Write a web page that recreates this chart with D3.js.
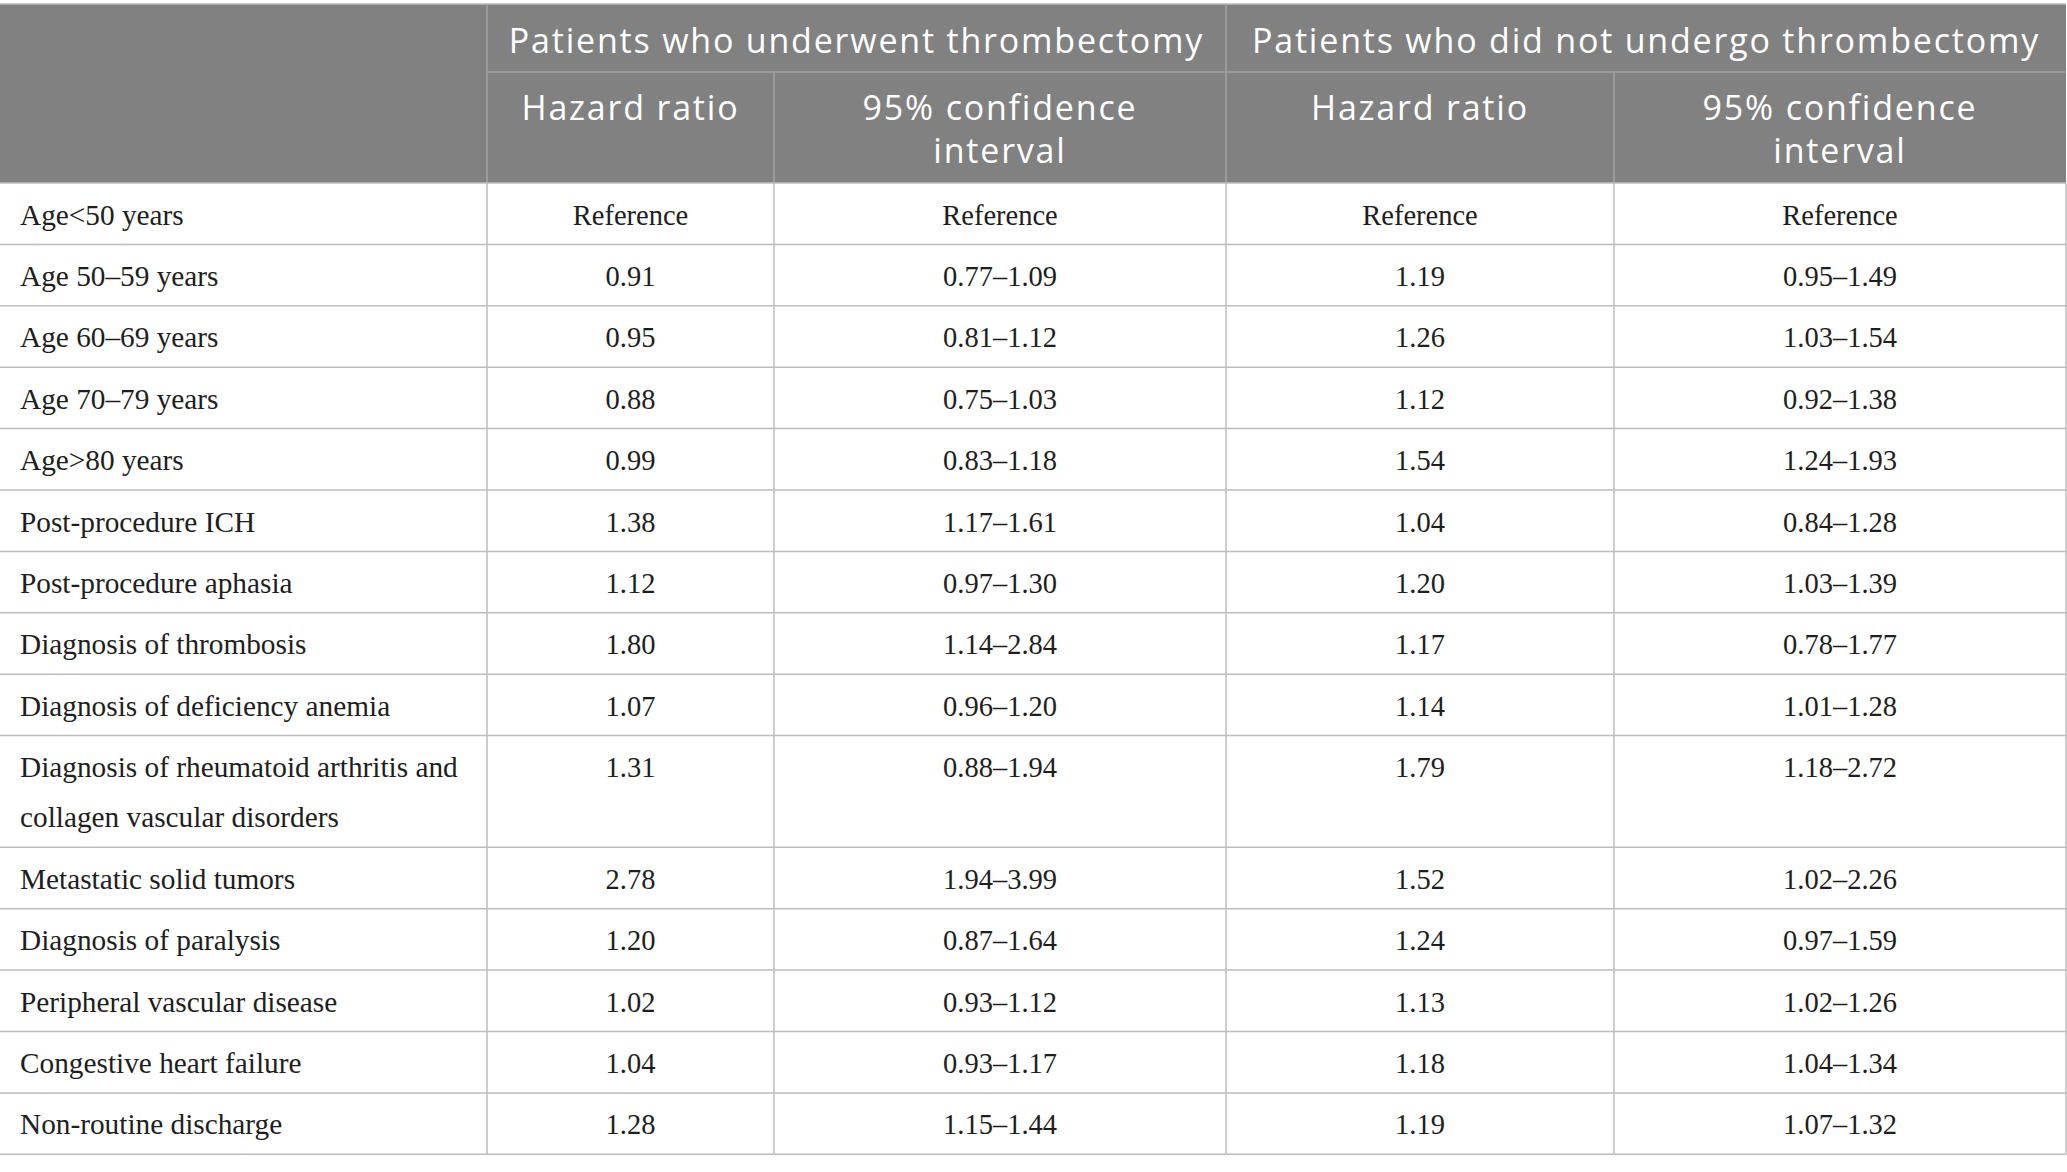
<!DOCTYPE html>
<html>
<head>
<meta charset="utf-8">
<script src="https://cdn.jsdelivr.net/npm/d3@7"></script>
<style>
  body { margin: 0; background: #fff; }
  svg { display: block; }
</style>
</head>
<body>
<svg id="tbl" width="2067" height="1172"></svg>
<script>
var groupHeads = ["Patients who underwent thrombectomy", "Patients who did not undergo thrombectomy"]
var subHeads = ["Hazard ratio", "95% confidence\ninterval", "Hazard ratio", "95% confidence\ninterval"]

var factors = [
  "Age<50 years",
  "Age 50\u201359 years",
  "Age 60\u201369 years",
  "Age 70\u201379 years",
  "Age>80 years",
  "Post-procedure ICH",
  "Post-procedure aphasia",
  "Diagnosis of thrombosis",
  "Diagnosis of deficiency anemia",
  "Diagnosis of rheumatoid arthritis and\ncollagen vascular disorders",
  "Metastatic solid tumors",
  "Diagnosis of paralysis",
  "Peripheral vascular disease",
  "Congestive heart failure",
  "Non-routine discharge"
]
var hrThromb = ["Reference", "0.91", "0.95", "0.88", "0.99", "1.38", "1.12", "1.80", "1.07", "1.31", "2.78", "1.20", "1.02", "1.04", "1.28"]
var ciThromb = ["Reference", "0.77\u20131.09", "0.81\u20131.12", "0.75\u20131.03", "0.83\u20131.18", "1.17\u20131.61", "0.97\u20131.30", "1.14\u20132.84", "0.96\u20131.20", "0.88\u20131.94", "1.94\u20133.99", "0.87\u20131.64", "0.93\u20131.12", "0.93\u20131.17", "1.15\u20131.44"]
var hrNoThromb = ["Reference", "1.19", "1.26", "1.12", "1.54", "1.04", "1.20", "1.17", "1.14", "1.79", "1.52", "1.24", "1.13", "1.18", "1.19"]
var ciNoThromb = ["Reference", "0.95\u20131.49", "1.03\u20131.54", "0.92\u20131.38", "1.24\u20131.93", "0.84\u20131.28", "1.03\u20131.39", "0.78\u20131.77", "1.01\u20131.28", "1.18\u20132.72", "1.02\u20132.26", "0.97\u20131.59", "1.02\u20131.26", "1.04\u20131.34", "1.07\u20131.32"]

var colEdges = [0, 487, 774, 1226, 1614, 2066]
var headTop = 4, headMid = 72, headBot = 183
var rowH = 61.4, lineH = 50.3
var headGray = "#808180", lineGray = "#bdbdbd", headLine = "#a3a3a3"
var sans = "'Open Sans', 'Noto Sans', sans-serif"
var serif = "'Liberation Serif', 'Times New Roman', serif"

var svg = d3.select("#tbl")

// rows: heights depend on how many lines the label has
var rows = factors.map((f, i) => ({
  label: f.split("\n"),
  cells: [hrThromb[i], ciThromb[i], hrNoThromb[i], ciNoThromb[i]]
}))
var acc = 0
rows.forEach(r => {
  r.top = acc
  r.h = rowH + (r.label.length - 1) * lineH
  acc += r.h
})
var y = d3.scaleLinear().domain([0, acc]).range([headBot, headBot + acc])

// header block
svg.append("rect")
  .attr("x", 0).attr("y", headTop)
  .attr("width", colEdges[5]).attr("height", headBot - headTop)
  .attr("fill", headGray)

var hdr = svg.append("g")
hdr.append("line").attr("x1", 0).attr("x2", colEdges[5]).attr("y1", headTop).attr("y2", headTop)
  .attr("stroke", lineGray).attr("stroke-width", 1.5)
hdr.append("line").attr("x1", colEdges[1]).attr("x2", colEdges[5]).attr("y1", headMid).attr("y2", headMid)
  .attr("stroke", headLine).attr("stroke-width", 1.5)
hdr.selectAll("line.v1").data([colEdges[1], colEdges[3]]).enter().append("line")
  .attr("x1", d => d).attr("x2", d => d).attr("y1", headTop).attr("y2", headBot)
  .attr("stroke", headLine).attr("stroke-width", 1.5)
hdr.selectAll("line.v2").data([colEdges[2], colEdges[4]]).enter().append("line")
  .attr("x1", d => d).attr("x2", d => d).attr("y1", headMid).attr("y2", headBot)
  .attr("stroke", headLine).attr("stroke-width", 1.5)

hdr.selectAll("text.grp").data(groupHeads).enter().append("text")
  .attr("x", (d, i) => (colEdges[1 + 2 * i] + colEdges[3 + 2 * i]) / 2)
  .attr("y", 53)
  .attr("text-anchor", "middle")
  .attr("fill", "#fff")
  .style("font-family", sans).style("font-size", "34px").style("letter-spacing", "1.8px")
  .text(d => d)

hdr.selectAll("text.sub").data(subHeads).enter().append("text")
  .attr("x", (d, i) => (colEdges[1 + i] + colEdges[2 + i]) / 2)
  .attr("y", 120)
  .attr("text-anchor", "middle")
  .attr("fill", "#fff")
  .style("font-family", sans).style("font-size", "34px").style("letter-spacing", "1.8px")
  .each(function(d) {
    var t = d3.select(this)
    d.split("\n").forEach((s, k) => {
      t.append("tspan").attr("x", t.attr("x")).attr("dy", k ? 43 : 0).text(s)
    })
  })

// body rows
var body = svg.append("g")
var rg = body.selectAll("g.row").data(rows).enter().append("g")
  .attr("transform", d => "translate(0," + y(d.top) + ")")

rg.append("line")
  .attr("x1", 0).attr("x2", colEdges[5])
  .attr("y1", d => d.h).attr("y2", d => d.h)
  .attr("stroke", lineGray).attr("stroke-width", 1.5)

rg.append("text")
  .attr("x", 20).attr("y", 41.5)
  .attr("fill", "#1e1e1e")
  .style("font-family", serif).style("font-size", "29.3px")
  .each(function(d) {
    var t = d3.select(this)
    d.label.forEach((s, k) => {
      t.append("tspan").attr("x", 20).attr("dy", k ? lineH : 0).text(s)
    })
  })

rg.selectAll("text.val").data(d => d.cells).enter().append("text")
  .attr("class", "val")
  .attr("x", (d, i) => (colEdges[1 + i] + colEdges[2 + i]) / 2)
  .attr("y", 41.5)
  .attr("text-anchor", "middle")
  .attr("fill", "#1e1e1e")
  .style("font-family", serif).style("font-size", "28.5px")
  .text(d => d)

body.selectAll("line.v").data(colEdges.slice(1)).enter().append("line")
  .attr("x1", d => d).attr("x2", d => d)
  .attr("y1", headBot).attr("y2", y(acc))
  .attr("stroke", lineGray).attr("stroke-width", 1.5)
body.append("line").attr("x1", 0).attr("x2", colEdges[5]).attr("y1", headBot).attr("y2", headBot)
  .attr("stroke", lineGray).attr("stroke-width", 1.5)
</script>
</body>
</html>
